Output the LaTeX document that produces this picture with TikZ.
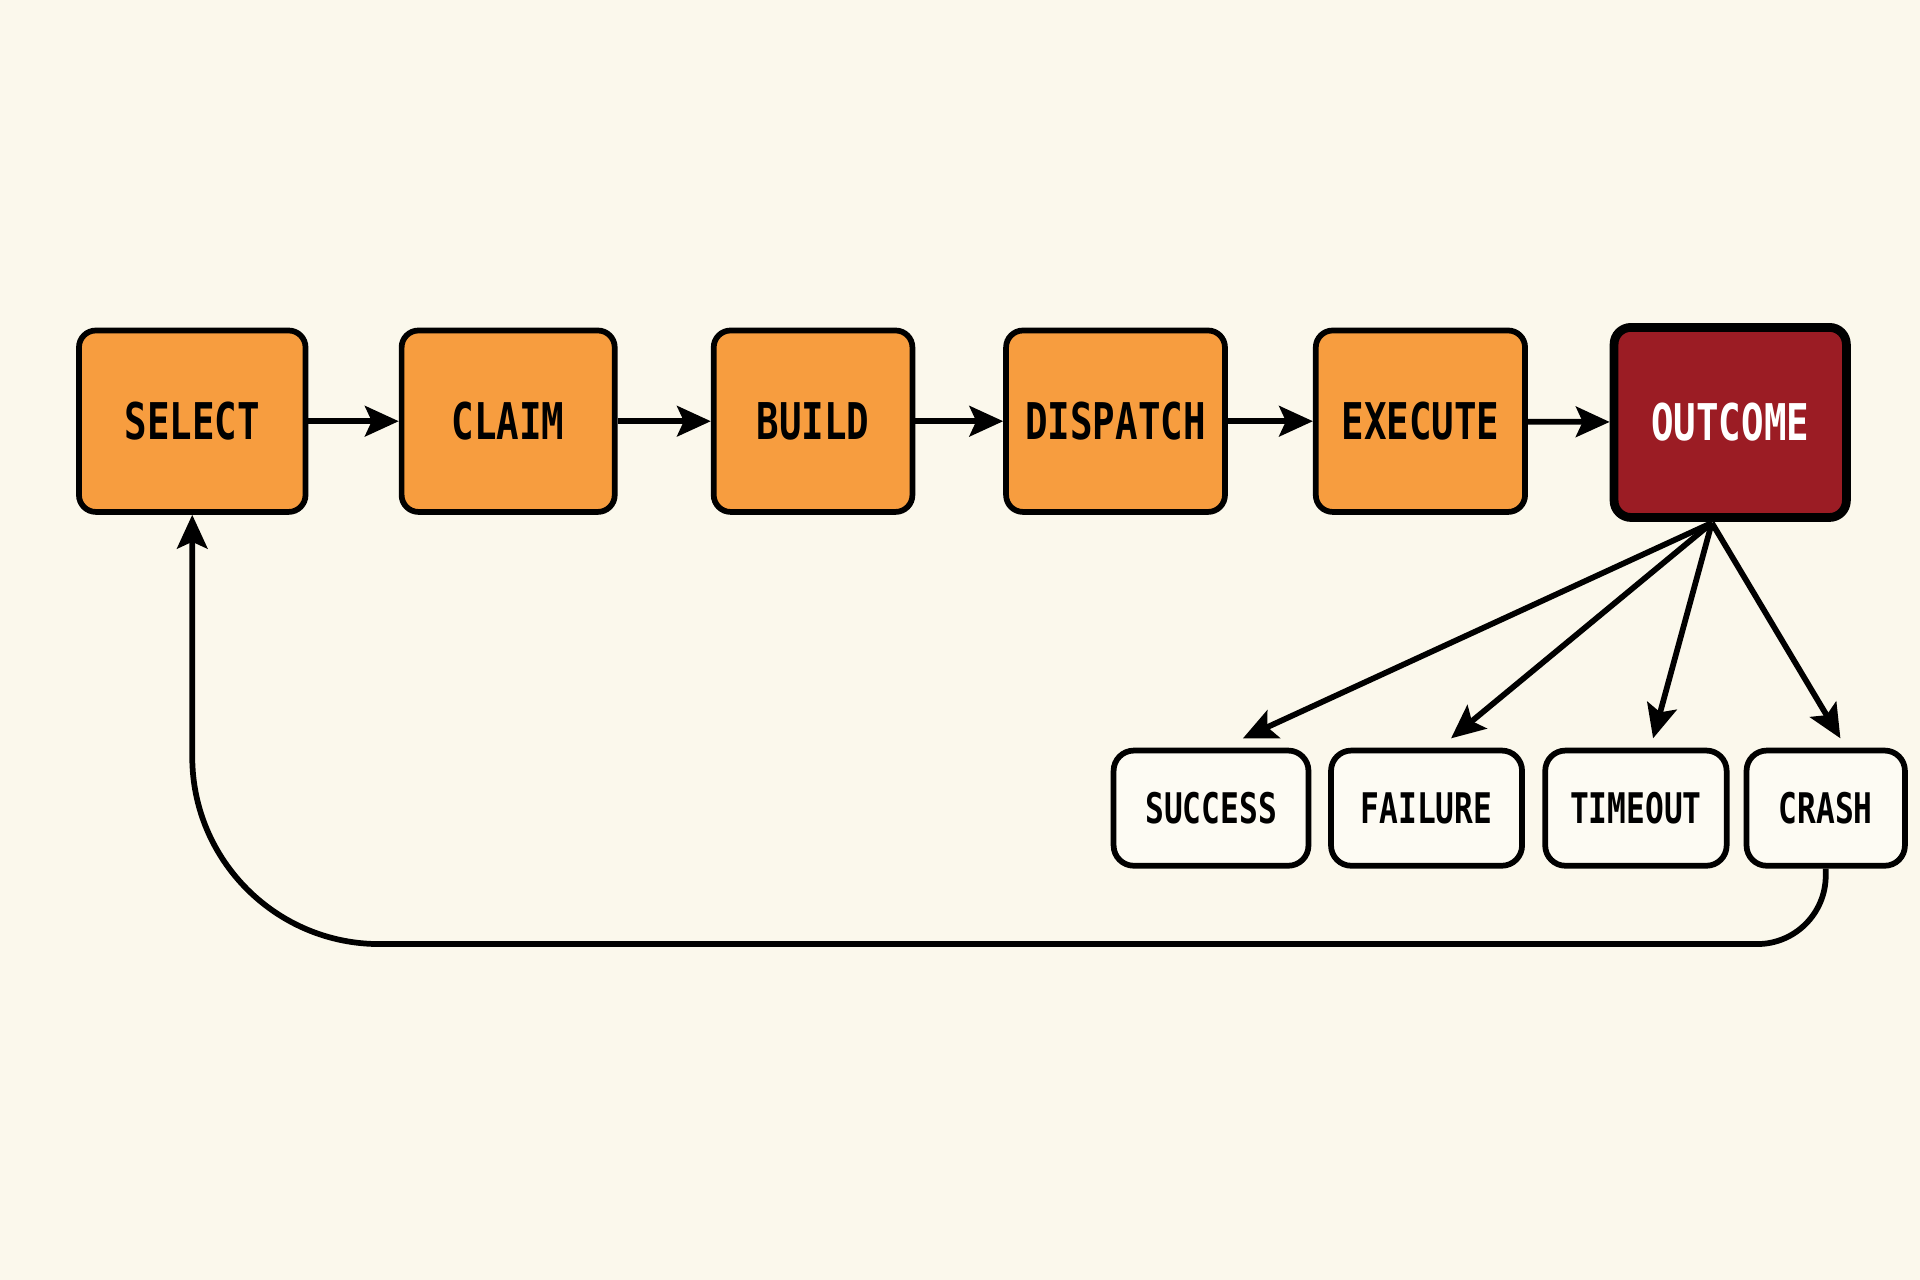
\documentclass[tikz,border=0pt]{standalone}
\usepackage{fontspec}
\newfontfamily\mono[FakeStretch=0.74]{DejaVu Sans Mono}
\usetikzlibrary{arrows.meta}
\definecolor{bg}{HTML}{FBF8EC}
\definecolor{org}{HTML}{F79D3F}
\definecolor{dred}{HTML}{9B1C24}
\definecolor{wbox}{HTML}{FDFBF3}
\begin{document}
\begin{tikzpicture}[x=0.012755cm,y=0.012755cm,
  stagebox/.style={draw=black,line width=1.7pt,fill=org,rounded corners=5pt,minimum height=1.89cm,font=\mono\bfseries\fontsize{15}{18}\selectfont,inner sep=0pt},
  res/.style={draw=black,line width=1.7pt,fill=wbox,rounded corners=6pt,minimum height=1.2cm,font=\mono\bfseries\fontsize{12.5}{15}\selectfont,inner sep=0pt},
  arr/.style={line width=1.7pt,-{Stealth[length=10pt,width=9pt,inset=2pt]}}]
\fill[bg] (0,0) rectangle (1568,1045);
\node[stagebox,minimum width=2.36cm] (sel) at (157,701) {SELECT};
\node[stagebox,minimum width=2.22cm] (cla) at (415,701) {CLAIM};
\node[stagebox,minimum width=2.07cm] (bui) at (664,701) {BUILD};
\node[stagebox,minimum width=2.28cm] (dis) at (911,701) {DISPATCH};
\node[stagebox,minimum width=2.18cm] (exe) at (1160,701) {EXECUTE};
\node[stagebox,minimum width=2.42cm,minimum height=1.98cm,fill=dred,text=white,line width=2.6pt] (out) at (1413,700) {OUTCOME};
\node[res,minimum width=2.03cm] (suc) at (989,385) {SUCCESS};
\node[res,minimum width=1.99cm] (fai) at (1165,385) {FAILURE};
\node[res,minimum width=1.89cm] (tim) at (1336,385) {TIMEOUT};
\node[res,minimum width=1.65cm] (cra) at (1491,385) {CRASH};
\draw[arr] (sel) -- (cla);
\draw[arr] (cla) -- (bui);
\draw[arr] (bui) -- (dis);
\draw[arr] (dis) -- (exe);
\draw[arr] (exe) -- (out);
\coordinate (o) at (1398,618);
\draw[arr] (o) -- (1015,442);
\draw[arr] (o) -- (1185,442);
\draw[arr] (o) -- (1350,442);
\draw[arr] (o) -- (1503,442);
\draw[arr] (cra.south) -- (1491,330) arc[start angle=0,end angle=-90,radius=56] -- (310,274) arc[start angle=270,end angle=180,radius=153] -- (sel.south);
\end{tikzpicture}
\end{document}
